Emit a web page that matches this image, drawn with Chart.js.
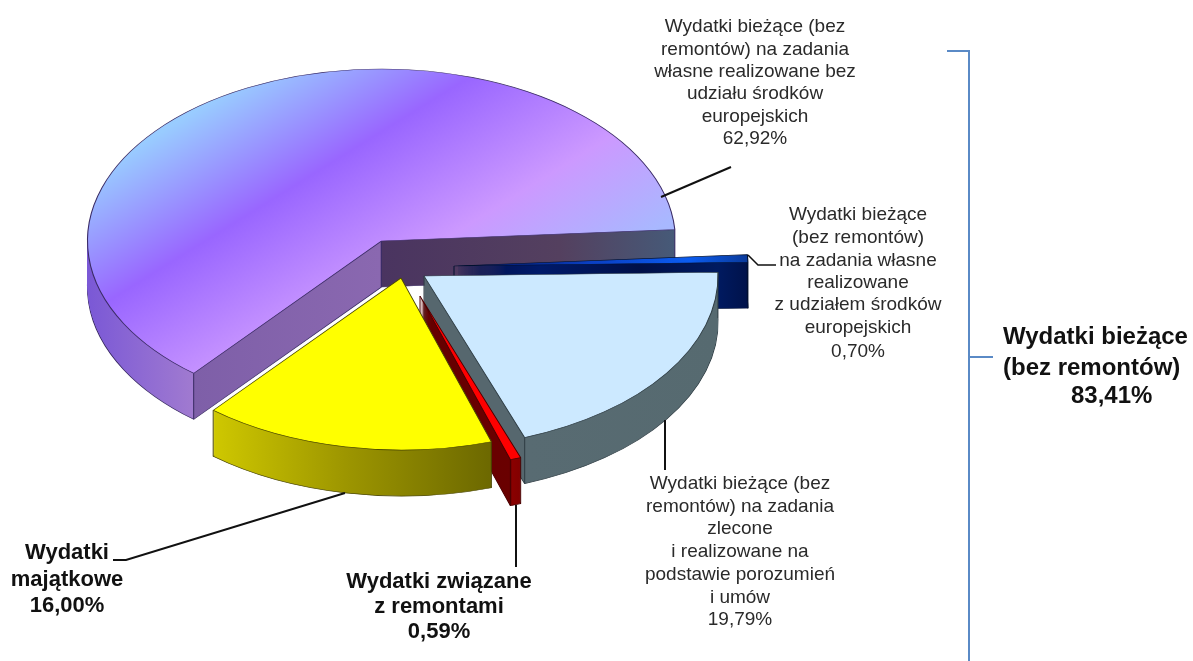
<!DOCTYPE html>
<html lang="pl">
<head>
<meta charset="utf-8">
<title>Wydatki</title>
<script src="https://cdn.jsdelivr.net/npm/chart.js@4"></script>
<style>
html,body{margin:0;padding:0;background:#fff;overflow:hidden}
canvas{display:block}
</style>
</head>
<body>
<canvas id="c" width="1193" height="661"></canvas>
<script>
// ---- data ----
const categories = [
  "Wydatki bieżące na zadania własne bez udziału środków europejskich",
  "Wydatki bieżące na zadania własne z udziałem środków europejskich",
  "Wydatki bieżące na zadania zlecone i realizowane na podstawie porozumień i umów",
  "Wydatki związane z remontami",
  "Wydatki majątkowe"
];
const values = [62.92, 0.70, 19.79, 0.59, 16.00];

// ---- text ----
const labelPurple = ["Wydatki bieżące (bez","remontów) na zadania","własne realizowane bez","udziału środków","europejskich","62,92%"];
const labelNavy = ["Wydatki bieżące","(bez remontów)","na zadania własne","realizowane","z udziałem środków","europejskich","0,70%"];
const labelBlue = ["Wydatki bieżące (bez","remontów) na zadania","zlecone","i realizowane na","podstawie porozumień","i umów","19,79%"];
const labelRed = ["Wydatki związane","z remontami","0,59%"];
const labelYellow = ["Wydatki","majątkowe","16,00%"];
const labelTotal = ["Wydatki bieżące","(bez remontów)","83,41%"];

// ---- styling / layout (not data) ----
const RX = 294, RY = 172, DEPTH = 46;
const apex = [[381.5,241],[454,266],[424,276],[420,296],[401,278]];
const flat = ["#9966ff","#0a2a90","#cce9ff","#ff0000","#ffff00"];
const edgeColor = ["#3b2c66","#00102f","#2f3d44","#4a0000","#4a4600"];
const wallStops = [
  [[87,"#7a58d6"],[192.5,"#a07ad0"],[193.5,"#7e5fa8"],[380,"#8a68b0"],[381.5,"#4a3460"],[560,"#54405f"],[675,"#465a78"]],
  [[454,"#00104a"],[540,"#001a6a"],[640,"#001048"],[718,"#001a60"],[748,"#00124a"]],
  [[424,"#56676e"],[525,"#56676e"],[526,"#586b72"],[718,"#566a70"]],
  [[420,"#640000"],[511,"#6a0000"],[512,"#8a0000"],[522,"#800000"]],
  [[213,"#cfc800"],[345,"#9d9600"],[492,"#6c6800"]]
];
const topFill = [
  {a:0.527,b:0.85,s0:197,s1:541,stops:[[0,"#99ccff"],[0.337,"#9966ff"],[0.70,"#cc99ff"],[1,"#a8b8ff"]]},
  {a:1,b:0,s0:454,s1:748,stops:[[0,"#001050"],[0.45,"#0a3ec0"],[0.8,"#0b5cf0"],[1,"#0a3a9a"]]},
  null, null, null
];
const leaders = [
  [[661,197],[731,167]],
  [[748,255],[758,265],[776,265]],
  [[665,420],[665,470]],
  [[516,505],[516,567]],
  [[345,493],[126,560],[113,560]]
];
const textBlocks = [
  {lines:labelPurple,x:755,ys:[27,50,72,94,117,139],size:19,bold:false},
  {lines:labelNavy,x:858,ys:[215,238,261,283,305,328,352],size:19,bold:false},
  {lines:labelBlue,x:740,ys:[484,507,529,552,575,598,620],size:19,bold:false},
  {lines:labelRed,x:439,ys:[582,607,632],size:22,bold:true},
  {lines:labelYellow,x:67,ys:[553,580,606],size:22,bold:true},
  {lines:labelTotal,xs:[1003,1003,1071],ys:[337,368,396],size:24,bold:true,left:true}
];

function linGrad(ctx, t, a, b, s0, s1, stops, absolute){
  // Screen-space linear gradient a*x+b*y, expressed in the arc's local space
  const gx = a*t.sx, gy = b*t.sy, g2 = gx*gx+gy*gy;
  const px = a*s0, py = b*s0;
  const lx = (px-t.cx)/t.sx + t.ax, ly = (py-t.cy)/t.sy + t.ay;
  const k = (s1-s0)/g2;
  const gr = ctx.createLinearGradient(lx,ly,lx+gx*k,ly+gy*k);
  stops.forEach(s=>gr.addColorStop(absolute?(s[0]-s0)/(s1-s0):s[0],s[1]));
  return gr;
}

const pie3d = {
  id:'pie3d',
  beforeDatasetDraw(chart,args){
    const ctx = chart.ctx, meta = args.meta;
    meta.data.forEach((arc,i)=>{
      const t = {sx:RX/arc.outerRadius, sy:RY/arc.outerRadius, cx:apex[i][0], cy:apex[i][1], ax:arc.x, ay:arc.y};
      const paint = (dy,fill,bw,bc)=>{
        const a = Object.create(arc);
        a.options = Object.assign({},arc.options,{backgroundColor:fill,borderWidth:bw,borderColor:bc,offset:0,spacing:0});
        ctx.save();
        ctx.translate(t.cx,t.cy+dy);
        ctx.scale(t.sx,t.sy);
        ctx.translate(-t.ax,-t.ay);
        a.draw(ctx);
        ctx.restore();
      };
      const ws = wallStops[i];
      const wall = linGrad(ctx,t,1,0,ws[0][0],ws[ws.length-1][0],ws,true);
      paint(DEPTH,wall,1.2,edgeColor[i]);
      for(let d=DEPTH-1;d>=1;d--) paint(d,wall,0,edgeColor[i]);
      // vertical edges at corners
      ctx.save();
      ctx.strokeStyle = edgeColor[i];
      ctx.lineWidth = 1;
      [[0,0],[Math.cos(arc.startAngle)*RX,Math.sin(arc.startAngle)*RY],[Math.cos(arc.endAngle)*RX,Math.sin(arc.endAngle)*RY]].forEach(p=>{
        ctx.beginPath();
        ctx.moveTo(t.cx+p[0],t.cy+p[1]);
        ctx.lineTo(t.cx+p[0],t.cy+p[1]+DEPTH);
        ctx.stroke();
      });
      ctx.restore();
      const f = topFill[i];
      const topStyle = f ? linGrad(ctx,t,f.a,f.b,f.s0,f.s1,f.stops,false) : flat[i];
      paint(0,topStyle,1.2,edgeColor[i]);
    });
    return false;
  },
  afterDraw(chart){
    const ctx = chart.ctx;
    ctx.save();
    // bracket
    ctx.strokeStyle = "#5a8ac6";
    ctx.lineWidth = 2;
    ctx.beginPath();
    ctx.moveTo(947,51); ctx.lineTo(969,51); ctx.lineTo(969,661);
    ctx.moveTo(969,357); ctx.lineTo(993,357);
    ctx.stroke();
    // leaders
    ctx.strokeStyle = "#111";
    leaders.forEach((l,i)=>{
      ctx.lineWidth = i===1?1.5:2;
      ctx.beginPath();
      l.forEach((p,j)=> j?ctx.lineTo(p[0],p[1]):ctx.moveTo(p[0],p[1]));
      ctx.stroke();
    });
    // labels
    ctx.textBaseline = "middle";
    textBlocks.forEach(b=>{
      ctx.textAlign = b.left ? "left" : "center";
      ctx.font = (b.bold ? "bold " : "") + b.size + "px 'Liberation Sans'";
      ctx.fillStyle = b.bold ? "#111" : "#2a2a2a";
      b.lines.forEach((s,j)=>ctx.fillText(s,b.xs?b.xs[j]:b.x,b.ys[j]));
    });
    ctx.restore();
  }
};

new Chart(document.getElementById('c'),{
  type:'pie',
  data:{labels:categories,datasets:[{data:values,backgroundColor:flat,borderWidth:0}]},
  options:{
    responsive:false,
    animation:false,
    rotation:219.7,
    layout:{padding:0},
    plugins:{legend:{display:false},tooltip:{enabled:false},title:{display:false}}
  },
  plugins:[pie3d]
});
</script>
</body>
</html>
